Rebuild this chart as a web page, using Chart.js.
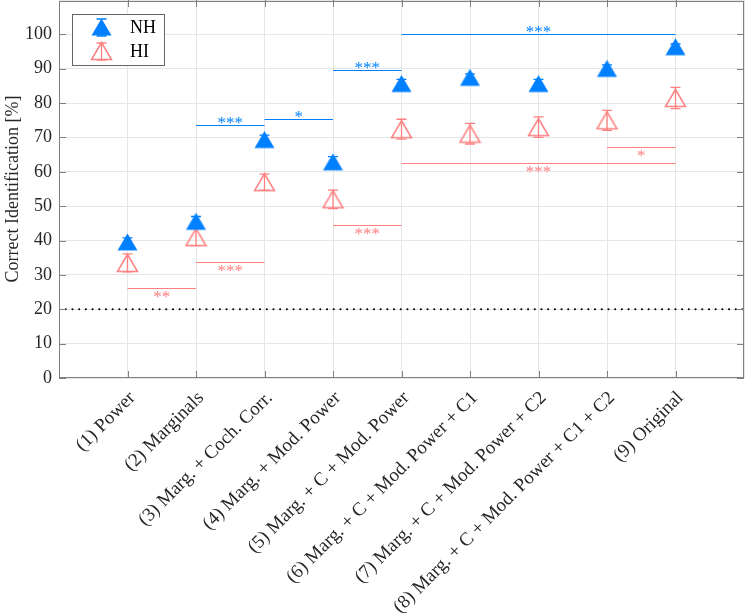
<!DOCTYPE html>
<html>
<head>
<meta charset="utf-8">
<script src="https://cdn.jsdelivr.net/npm/chart.js@4.4.0/dist/chart.umd.min.js"></script>
<style>
  html, body { margin: 0; padding: 0; background: #fff; }
</style>
</head>
<body>
<canvas id="chartCanvas" width="747" height="613"></canvas>
<script>
const categories = [
  '(1) Power',
  '(2) Marginals',
  '(3) Marg. + Coch. Corr.',
  '(4) Marg. + Mod. Power',
  '(5) Marg. + C + Mod. Power',
  '(6) Marg. + C + Mod. Power + C1',
  '(7) Marg. + C + Mod. Power + C2',
  '(8) Marg. + C + Mod. Power + C1 + C2',
  '(9) Original'
];
const nhMean = [39.6, 45.6, 69.4, 62.9, 85.7, 87.5, 85.7, 90.1, 96.4];
const nhErr = [1.2, 1.4, 1.3, 1.5, 1.2, 1.0, 1.2, 1.0, 0.8];
const hiMean = [33.5, 41.0, 57.0, 52.0, 72.4, 71.1, 73.0, 75.0, 81.5];
const hiErr = [2.6, 2.5, 2.3, 2.7, 2.9, 3.0, 3.0, 2.9, 3.1];
const chanceLevel = 20;
const yTicks = [0, 10, 20, 30, 40, 50, 60, 70, 80, 90, 100];
// significance brackets: [from category, to category, height, stars]
const nhSig = [[2, 3, 73.5, '***'], [3, 4, 75.5, '*'], [4, 5, 89.5, '***'], [5, 9, 100, '***']];
const hiSig = [[1, 2, 26.2, '**'], [2, 3, 33.8, '***'], [4, 5, 44.6, '***'], [5, 9, 62.7, '***'], [8, 9, 67.1, '*']];

const nhColor = 'rgb(0,128,255)';
const hiColor = 'rgb(255,128,128)';
const frameColor = '#808080';

function makeTriangle(filled, color) {
    const c = document.createElement('canvas');
    c.width = 23;
    c.height = 20;
    const g = c.getContext('2d');
    g.beginPath();
    g.moveTo(11.5, 1.5);
    g.lineTo(21.5, 18.5);
    g.lineTo(1.5, 18.5);
    g.closePath();
    if (filled) {
        g.fillStyle = color;
        g.fill();
    } else {
        g.strokeStyle = color;
        g.lineWidth = 1.5;
        g.stroke();
    }
    return c;
}
const nhMarker = makeTriangle(true, nhColor);
const hiMarker = makeTriangle(false, hiColor);

function drawBar(ctx, px, top, bot, color) {
    ctx.save();
    ctx.strokeStyle = color;
    ctx.lineWidth = 1.3;
    ctx.beginPath();
    ctx.moveTo(px, top); ctx.lineTo(px, bot);
    ctx.moveTo(px - 5, top); ctx.lineTo(px + 5, top);
    ctx.moveTo(px - 5, bot); ctx.lineTo(px + 5, bot);
    ctx.stroke();
    ctx.restore();
}

const errorBars = {
    id: 'errorBars',
    beforeDatasetsDraw(chart) {
        const {ctx, scales: {x, y}} = chart;
        [[nhMean, nhErr, nhColor], [hiMean, hiErr, hiColor]].forEach(([m, e, col]) => {
            m.forEach((v, i) => {
                drawBar(ctx, x.getPixelForValue(i + 1), y.getPixelForValue(v + e[i]), y.getPixelForValue(v - e[i]), col);
            });
        });
    }
};

const significance = {
    id: 'significance',
    afterDatasetsDraw(chart) {
        const {ctx, scales: {x, y}} = chart;
        ctx.save();
        ctx.font = '17px "Liberation Serif"';
        ctx.textAlign = 'center';
        ctx.textBaseline = 'alphabetic';
        ctx.lineWidth = 1.2;
        [[nhSig, nhColor, 2], [hiSig, hiColor, 13.5]].forEach(([list, col, off]) => {
            ctx.strokeStyle = col;
            ctx.fillStyle = col;
            list.forEach(([a, b, v, stars]) => {
                const x0 = x.getPixelForValue(a), x1 = x.getPixelForValue(b);
                const py = Math.round(y.getPixelForValue(v)) + 0.5;
                ctx.beginPath();
                ctx.moveTo(x0, py);
                ctx.lineTo(x1, py);
                ctx.stroke();
                ctx.fillText(stars, (x0 + x1) / 2, py + off);
            });
        });
        ctx.restore();
    }
};

const frame = {
    id: 'frame',
    afterDraw(chart) {
        const {ctx, chartArea: {left, right, top, bottom}, scales: {x, y}} = chart;
        ctx.save();
        ctx.strokeStyle = frameColor;
        ctx.lineWidth = 1;
        ctx.beginPath();
        yTicks.forEach(t => {
            const py = Math.round(y.getPixelForValue(t)) + 0.5;
            ctx.moveTo(left, py); ctx.lineTo(left + 7, py);
            ctx.moveTo(right, py); ctx.lineTo(right - 7, py);
        });
        categories.forEach((c, i) => {
            const px = Math.round(x.getPixelForValue(i + 1)) + 0.5;
            ctx.moveTo(px, top); ctx.lineTo(px, top + 7);
            ctx.moveTo(px, bottom); ctx.lineTo(px, bottom - 7);
        });
        ctx.stroke();
        ctx.strokeRect(left + 0.5, top + 1.5, right - left - 1, bottom - top - 2);

        // legend box
        ctx.fillStyle = '#fff';
        ctx.fillRect(72, 14, 92, 51);
        ctx.strokeStyle = '#666';
        ctx.strokeRect(72.5, 14.5, 92, 51);
        drawBar(ctx, 101.5, 19, 36, nhColor);
        ctx.drawImage(nhMarker, 101.5 - 11.5, 27 - 10);
        drawBar(ctx, 101.5, 43, 60, hiColor);
        ctx.drawImage(hiMarker, 101.5 - 11.5, 51 - 10);
        ctx.fillStyle = '#000';
        ctx.font = '18px "Liberation Serif"';
        ctx.textAlign = 'left';
        ctx.textBaseline = 'middle';
        ctx.fillText('NH', 130, 28);
        ctx.fillText('HI', 130, 52);
        ctx.restore();
    }
};

Chart.defaults.font.family = '"Liberation Serif", serif';
Chart.defaults.font.size = 18;
Chart.defaults.color = '#262626';

new Chart(document.getElementById('chartCanvas').getContext('2d'), {
    type: 'scatter',
    data: {
        datasets: [{
            label: 'NH',
            data: nhMean.map((v, i) => ({x: i + 1, y: v})),
            pointStyle: nhMarker,
            pointRadius: 10
        }, {
            label: 'HI',
            data: hiMean.map((v, i) => ({x: i + 1, y: v})),
            pointStyle: hiMarker,
            pointRadius: 10
        }, {
            type: 'line',
            label: 'chance',
            data: [{x: 0, y: chanceLevel}, {x: 10, y: chanceLevel}],
            borderColor: '#000',
            borderWidth: 2,
            borderDash: [0.1, 6.6],
            borderCapStyle: 'round',
            pointRadius: 0
        }]
    },
    options: {
        responsive: false,
        animation: false,
        devicePixelRatio: 1,
        layout: {autoPadding: false, padding: {left: 0, right: 3, top: 0, bottom: 0}},
        plugins: {legend: {display: false}, tooltip: {enabled: false}},
        scales: {
            x: {
                type: 'linear',
                min: 0,
                max: 10,
                afterFit: scale => {
                    scale.height = 235;
                    scale.paddingLeft = 0;
                    scale.paddingRight = 0;
                },
                grid: {color: '#e6e6e6', drawTicks: false},
                border: {display: false},
                ticks: {
                    stepSize: 1,
                    autoSkip: false,
                    minRotation: 45,
                    maxRotation: 45,
                    padding: 9,
                    labelOffset: 5,
                    font: {size: 19},
                    callback: v => categories[v - 1] || ''
                }
            },
            y: {
                min: 0,
                max: 110,
                afterFit: scale => {
                    scale.width = 59;
                    scale.paddingTop = 0;
                    scale.paddingBottom = 0;
                },
                grid: {color: '#e6e6e6', drawTicks: false},
                border: {display: false},
                ticks: {
                    stepSize: 10,
                    padding: 7,
                    callback: v => v <= 100 ? v : ''
                },
                title: {display: true, text: 'Correct Identification [%]', padding: {top: 2, bottom: 0}}
            }
        }
    },
    plugins: [errorBars, significance, frame]
});
</script>
</body>
</html>
